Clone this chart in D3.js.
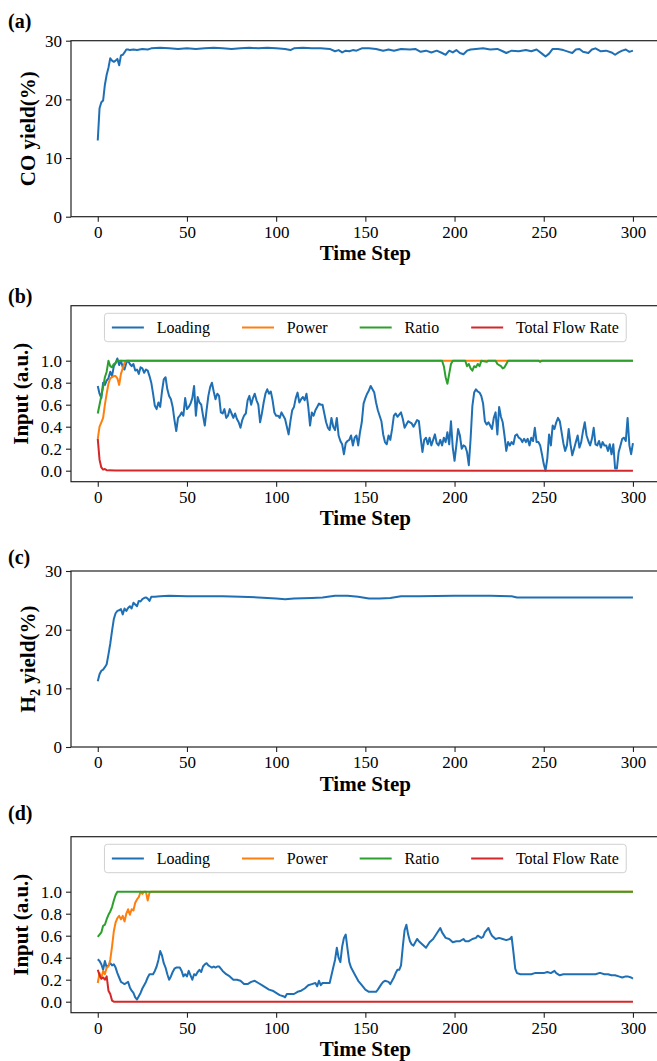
<!DOCTYPE html>
<html>
<head>
<meta charset="utf-8">
<script src="https://cdn.jsdelivr.net/npm/d3@7"></script>
<style>
  html, body { margin: 0; padding: 0; background: #fff; }
  svg text { font-family: "Liberation Serif", "Times New Roman", serif; fill: #000; }
</style>
</head>
<body>
<svg id="fig" width="657" height="1061"></svg>
<script>
// ---------- data ----------
const xTicks = [0, 50, 100, 150, 200, 250, 300];
const yieldTicks = [0, 10, 20, 30];
const inputTicks = [0.0, 0.2, 0.4, 0.6, 0.8, 1.0];
const seriesNames = ["Loading", "Power", "Ratio", "Total Flow Rate"];
const seriesColors = ["#1f6fb4", "#ff7f0e", "#2ca02c", "#d62728"];

// (a) CO yield (%)
const coStep = [0,1,2,3,4,5,6,7,8,9,10,11,12,13,14,15,16,17,18,20,22,25,28,30,35,40,45,50,55,60,65,70,75,80,85,90,95,100,105,108,110,115,120,125,130,133,135,137,139,141,143,145,148,152,156,160,163,166,170,175,178,181,184,187,190,193,195,197,199,201,203,205,207,209,212,216,220,224,227,229,232,236,240,243,246,249,251,253,255,258,261,264,266,268,270,272,275,277,279,282,285,288,290,292,294,296,298,300];
const coYield = [13.0,18.5,19.5,19.8,22.5,24.2,25.4,27.0,26.6,26.4,26.6,26.9,25.8,27.5,27.6,28.0,28.5,28.5,28.4,28.5,28.4,28.6,28.5,28.7,28.8,28.7,28.6,28.7,28.6,28.7,28.8,28.7,28.6,28.7,28.8,28.7,28.8,28.7,28.6,28.4,28.7,28.8,28.7,28.7,28.6,28.2,28.4,28.0,28.3,28.2,28.4,28.3,28.7,28.7,28.6,28.3,28.5,28.3,28.6,28.5,28.6,28.1,28.3,28.0,28.3,27.9,27.6,28.3,28.0,28.4,27.9,27.7,28.3,28.5,28.6,28.7,28.5,28.6,28.2,27.9,28.3,28.2,28.4,28.2,28.5,27.8,27.3,27.8,28.6,28.6,28.4,28.1,27.9,28.5,28.6,28.1,27.9,28.5,28.7,28.2,28.3,28.0,27.6,28.0,28.3,28.5,28.1,28.3];

// (b) inputs, one loading value per time step 0..300
const loadingB = [0.77,0.70,0.66,0.80,0.78,0.82,0.84,0.90,0.86,0.95,0.98,1.02,0.96,1.00,0.94,0.92,0.98,1.00,0.97,0.95,
0.97,0.91,0.92,0.88,0.94,0.93,0.89,0.92,0.91,0.86,0.80,0.70,0.59,0.56,0.62,0.58,0.72,0.83,0.85,0.74,
0.68,0.65,0.58,0.46,0.36,0.48,0.50,0.53,0.50,0.66,0.56,0.58,0.61,0.66,0.77,0.50,0.67,0.62,0.60,0.50,
0.41,0.55,0.68,0.76,0.80,0.72,0.65,0.70,0.68,0.53,0.52,0.56,0.48,0.50,0.56,0.52,0.48,0.52,0.47,0.44,
0.39,0.46,0.50,0.52,0.64,0.68,0.60,0.66,0.70,0.64,0.60,0.44,0.52,0.62,0.70,0.74,0.70,0.72,0.64,0.53,
0.50,0.50,0.48,0.53,0.50,0.47,0.40,0.33,0.45,0.55,0.58,0.66,0.71,0.62,0.65,0.67,0.64,0.70,0.58,0.41,
0.53,0.50,0.55,0.58,0.61,0.60,0.60,0.52,0.44,0.39,0.37,0.48,0.40,0.37,0.48,0.32,0.27,0.24,0.15,0.25,
0.27,0.28,0.32,0.23,0.30,0.32,0.23,0.35,0.44,0.61,0.66,0.70,0.73,0.77,0.74,0.71,0.62,0.55,0.50,0.45,
0.33,0.26,0.24,0.32,0.28,0.38,0.50,0.52,0.49,0.51,0.53,0.47,0.39,0.42,0.45,0.44,0.43,0.40,0.43,0.46,
0.45,0.30,0.17,0.28,0.30,0.24,0.30,0.23,0.28,0.33,0.25,0.23,0.28,0.23,0.30,0.26,0.35,0.24,0.45,0.21,
0.09,0.23,0.38,0.32,0.20,0.23,0.22,0.17,0.05,0.29,0.59,0.71,0.74,0.72,0.71,0.68,0.61,0.45,0.42,0.44,
0.41,0.38,0.48,0.53,0.33,0.58,0.49,0.44,0.32,0.18,0.26,0.23,0.26,0.24,0.32,0.33,0.30,0.29,0.26,0.29,
0.26,0.29,0.23,0.30,0.27,0.39,0.26,0.26,0.23,0.15,0.06,0.00,0.11,0.33,0.23,0.41,0.38,0.44,0.48,0.45,
0.35,0.25,0.18,0.23,0.38,0.24,0.14,0.20,0.26,0.32,0.21,0.26,0.36,0.44,0.32,0.27,0.23,0.29,0.39,0.24,
0.23,0.27,0.21,0.26,0.23,0.23,0.18,0.24,0.15,0.24,0.02,0.02,0.17,0.23,0.29,0.30,0.27,0.48,0.23,0.15,
0.25];
const powerBStep = [0,1,2,3,4,5,6,7,8,9,10,11,12,13,14,15,16,300];
const powerB = [0.29,0.40,0.44,0.48,0.60,0.70,0.79,0.84,0.85,0.86,0.86,0.84,0.78,0.88,0.93,0.98,1.0,1.0];
const ratioBStep = [0,1,2,3,4,5,6,7,8,9,10,11,
  193,194,195,196,197,198,199,
  206,207,208,209,210,211,212,213,214,215,
  218,219,
  223,224,225,226,227,228,229,230,
  247,248,249,300];
const ratioB = [0.52,0.60,0.68,0.76,0.85,0.90,1.0,0.95,0.94,0.97,0.98,1.0,
  1.0,0.95,0.85,0.79,0.88,0.97,1.0,
  1.0,0.95,0.97,0.93,0.91,0.95,0.94,0.97,0.95,1.0,
  0.99,1.0,
  1.0,0.97,0.96,0.95,0.93,0.94,0.97,1.0,
  1.0,0.99,1.0,1.0];
const flowBStep = [0,1,2,3,4,5,6,10,300];
const flowB = [0.29,0.10,0.03,0.01,0.015,0.005,0.003,0.002,0.0];

// (c) H2 yield (%)
const h2Step = [0,1,2,3,4,5,6,7,8,9,10,11,12,13,14,15,16,17,18,19,20,21,22,23,24,25,26,27,28,29,30,32,35,40,50,60,70,80,90,100,105,110,120,126,133,140,146,152,158,164,170,180,200,220,232,235,260,300];
const h2Yield = [11.2,12.4,13.0,13.2,13.6,14.1,15.8,17.6,19.8,21.8,22.8,23.2,23.3,23.5,22.6,23.6,23.2,23.7,24.0,23.6,24.6,24.3,24.0,24.9,24.8,25.2,25.4,25.5,25.3,24.9,25.6,25.6,25.7,25.8,25.7,25.7,25.7,25.6,25.5,25.3,25.2,25.3,25.4,25.5,25.8,25.8,25.6,25.3,25.3,25.4,25.7,25.7,25.8,25.8,25.7,25.5,25.5,25.5];

// (d) inputs
const loadingDStep = [0,1,2,3,4,5,6,7,8,9,10,11,12,13,14,15,16,17,18,19,20,21,22,23,24,25,26,27,28,29,30,31,32,33,34,35,36,37,38,39,40,41,42,43,44,45,46,47,48,49,50,51,52,53,54,55,56,57,58,59,60,61,62,63,64,65,66,67,68,69,70,72,74,76,78,80,82,84,86,88,90,92,94,96,98,100,102,104,105,106,108,110,112,114,116,118,120,122,123,124,125,126,128,130,131,132,133,134,135,136,137,138,139,140,141,142,144,146,148,150,152,154,156,157,159,160,161,163,164,165,166,167,168,169,170,171,172,173,174,175,176,177,178,179,180,182,184,186,188,190,192,193,195,197,199,201,203,205,206,208,210,212,213,215,216,217,219,220,221,223,225,227,229,231,232,233,234,235,237,240,243,245,247,250,252,254,256,257,259,261,264,267,270,273,275,277,279,281,282,284,286,288,290,292,294,296,297,299,300];
const loadingD = [0.385,0.37,0.34,0.29,0.37,0.31,0.33,0.35,0.33,0.34,0.31,0.26,0.22,0.18,0.17,0.16,0.17,0.18,0.13,0.10,0.08,0.04,0.02,0.05,0.08,0.12,0.15,0.18,0.22,0.25,0.25,0.25,0.28,0.32,0.38,0.46,0.42,0.35,0.31,0.25,0.20,0.23,0.27,0.30,0.31,0.31,0.31,0.28,0.23,0.25,0.23,0.28,0.24,0.20,0.25,0.24,0.27,0.29,0.27,0.32,0.34,0.35,0.33,0.32,0.31,0.32,0.31,0.32,0.32,0.30,0.28,0.25,0.23,0.20,0.20,0.19,0.16,0.16,0.18,0.19,0.17,0.15,0.13,0.11,0.10,0.08,0.06,0.05,0.04,0.07,0.07,0.07,0.09,0.10,0.12,0.15,0.16,0.17,0.14,0.19,0.15,0.17,0.17,0.17,0.24,0.31,0.38,0.49,0.40,0.36,0.50,0.58,0.61,0.48,0.36,0.31,0.25,0.19,0.15,0.11,0.09,0.09,0.09,0.11,0.16,0.18,0.19,0.18,0.16,0.19,0.22,0.26,0.29,0.29,0.33,0.50,0.65,0.70,0.61,0.55,0.52,0.51,0.54,0.57,0.55,0.52,0.49,0.54,0.57,0.62,0.67,0.63,0.58,0.57,0.54,0.55,0.55,0.57,0.55,0.55,0.57,0.58,0.60,0.58,0.59,0.63,0.67,0.63,0.60,0.57,0.58,0.57,0.56,0.57,0.59,0.45,0.30,0.26,0.25,0.25,0.25,0.26,0.26,0.26,0.27,0.26,0.28,0.26,0.24,0.25,0.25,0.25,0.25,0.25,0.25,0.25,0.25,0.26,0.26,0.25,0.25,0.24,0.24,0.23,0.22,0.23,0.23,0.22,0.21];
const powerDStep = [0,1,2,3,4,5,6,7,8,9,10,11,12,13,14,15,16,17,18,19,20,21,22,23,24,25,26,27,28,29,30,300];
const powerD = [0.17,0.26,0.21,0.28,0.25,0.31,0.32,0.38,0.50,0.64,0.72,0.76,0.78,0.75,0.78,0.73,0.80,0.84,0.79,0.84,0.83,0.90,0.93,0.95,1.0,0.98,1.0,1.0,0.92,0.99,1.0,1.0];
const ratioDStep = [0,1,2,3,4,5,6,7,8,9,10,11,300];
const ratioD = [0.59,0.61,0.63,0.69,0.70,0.75,0.79,0.82,0.86,0.92,0.97,1.0,1.0];
const flowDStep = [0,1,2,3,4,5,6,7,8,9,300];
const flowD = [0.29,0.24,0.21,0.22,0.20,0.23,0.10,0.07,0.01,0.0,0.0];

// ---------- layout ----------
const svg = d3.select("#fig");
const panelH = 176;
const axLeft = 71, axRight = 659.7;
const x = d3.scaleLinear().domain([-15, 315]).range([axLeft, axRight]);
const tickFont = 17, labelFont = 21, legendFont = 16;
const serif = '"Liberation Serif", "Times New Roman", serif';

function pairs(steps, vals) { return steps.map((s, i) => [s, vals[i]]); }
const indexed = vals => vals.map((v, i) => [i, v]);

function styleAxis(a) {
  a.attr("font-family", serif);
  a.select(".domain").remove();
  a.selectAll(".tick line").attr("stroke", "#222").attr("stroke-width", 1.1);
  a.selectAll(".tick text").attr("font-size", tickFont).style("font-family", serif);
}

function drawPanel(opt) {
  const g = svg.append("g");
  const top = opt.top, bottom = top + panelH;
  const y = d3.scaleLinear().domain(opt.yDomain).range([bottom, top]);

  // series
  const line = d3.line().x(d => x(d[0])).y(d => y(d[1]));
  opt.series.forEach(s => {
    g.append("path").datum(s.data)
      .attr("fill", "none").attr("stroke", s.color)
      .attr("stroke-width", 2).attr("stroke-linejoin", "round")
      .attr("d", line);
  });

  // x axis
  const xa = g.append("g").attr("transform", `translate(0,${bottom})`)
    .call(d3.axisBottom(x).tickValues(xTicks).tickSize(5).tickPadding(4).tickFormat(d3.format("d")));
  styleAxis(xa);
  xa.selectAll(".tick text").attr("dy", "0.71em");

  // y axis
  const ya = g.append("g").attr("transform", `translate(${axLeft},0)`)
    .call(d3.axisLeft(y).tickValues(opt.yTicks).tickSize(5).tickPadding(4).tickFormat(opt.yFmt));
  styleAxis(ya);
  ya.selectAll(".tick text").attr("dy", "0.34em");

  // spines
  g.append("rect").attr("x", axLeft).attr("y", top)
    .attr("width", axRight - axLeft).attr("height", panelH)
    .attr("fill", "none").attr("stroke", "#222").attr("stroke-width", 1.2);

  // axis titles
  g.append("text").attr("x", (axLeft + axRight) / 2).attr("y", bottom + 43.5)
    .attr("text-anchor", "middle").attr("font-size", labelFont).attr("font-weight", "bold")
    .text("Time Step");
  const yl = g.append("text")
    .attr("transform", `translate(${opt.ylabelX},${(top + bottom) / 2}) rotate(-90)`)
    .attr("text-anchor", "middle").attr("font-size", labelFont).attr("font-weight", "bold");
  opt.ylabel(yl);

  // panel tag
  g.append("text").attr("x", 8).attr("y", opt.tagY)
    .attr("font-size", 20).attr("font-weight", "bold").text(opt.tag);

  if (opt.legend) drawLegend(g, top);
}

function drawLegend(g, top) {
  const fs = legendFont;
  const handle = 2 * fs, hpad = 0.8 * fs, colsp = 2 * fs, bpad = 0.4 * fs;
  const lg = g.append("g");
  const box = lg.append("rect");
  const items = seriesNames.map((name, i) => {
    const t = lg.append("text").attr("font-size", fs).text(name);
    return { t, w: t.node().getComputedTextLength(), color: seriesColors[i] };
  });
  const width = 2 * bpad + d3.sum(items, d => handle + hpad + d.w) + colsp * (items.length - 1) + 2;
  const height = 28.4;
  const bx = (axLeft + axRight) / 2 - width / 2, by = top + 7.6;
  box.attr("x", bx).attr("y", by).attr("width", width).attr("height", height)
    .attr("rx", 3).attr("fill", "#fff").attr("fill-opacity", 0.8)
    .attr("stroke", "#d0d0d0").attr("stroke-width", 1);
  let cx = bx + bpad + 1;
  const cy = by + height / 2;
  items.forEach(d => {
    lg.append("line").attr("x1", cx).attr("x2", cx + handle).attr("y1", cy).attr("y2", cy)
      .attr("stroke", d.color).attr("stroke-width", 2);
    d.t.attr("x", cx + handle + hpad).attr("y", cy).attr("dy", "0.33em");
    d.t.raise();
    cx += handle + hpad + d.w + colsp;
  });
}

const yieldFmt = d3.format("d");
const inputFmt = d3.format(".1f");

drawPanel({
  top: 40.7, yDomain: [0, 30], yTicks: yieldTicks, yFmt: yieldFmt,
  ylabelX: 35, tag: "(a)", tagY: 28,
  ylabel: t => t.text("CO yield(%)"),
  series: [{ data: pairs(coStep, coYield), color: seriesColors[0] }]
});

const inputSeries = (load, pw, ra, fl) => [
  { data: load, color: seriesColors[0] },
  { data: pw, color: seriesColors[1] },
  { data: ra, color: seriesColors[2] },
  { data: fl, color: seriesColors[3] }
];

drawPanel({
  top: 305.7, yDomain: [-0.1, 1.5], yTicks: inputTicks, yFmt: inputFmt,
  ylabelX: 28, tag: "(b)", tagY: 303, legend: true,
  ylabel: t => t.text("Input (a.u.)"),
  series: inputSeries(indexed(loadingB), pairs(powerBStep, powerB), pairs(ratioBStep, ratioB), pairs(flowBStep, flowB))
});

drawPanel({
  top: 571, yDomain: [0, 30], yTicks: yieldTicks, yFmt: yieldFmt,
  ylabelX: 35, tag: "(c)", tagY: 564,
  ylabel: t => {
    t.append("tspan").text("H");
    t.append("tspan").attr("font-size", 14).attr("dy", 5).text("2");
    t.append("tspan").attr("dy", -5).text(" yield(%)");
  },
  series: [{ data: pairs(h2Step, h2Yield), color: seriesColors[0] }]
});

drawPanel({
  top: 836.7, yDomain: [-0.1, 1.5], yTicks: inputTicks, yFmt: inputFmt,
  ylabelX: 28, tag: "(d)", tagY: 820, legend: true,
  ylabel: t => t.text("Input (a.u.)"),
  series: inputSeries(pairs(loadingDStep, loadingD), pairs(powerDStep, powerD), pairs(ratioDStep, ratioD), pairs(flowDStep, flowD))
});
</script>
</body>
</html>
